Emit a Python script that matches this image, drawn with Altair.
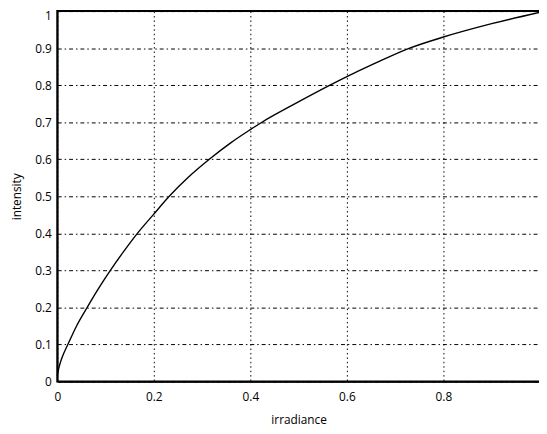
import altair as alt
import pandas as pd

irradiance = [0, 0.004, 0.01, 0.022, 0.04, 0.062, 0.085, 0.110, 0.137, 0.166,
              0.2, 0.232, 0.272, 0.315, 0.36, 0.4, 0.424, 0.49, 0.565, 0.6,
              0.66, 0.73, 0.8, 0.9, 1.0]
intensity = [0.015, 0.04, 0.065, 0.1, 0.15, 0.2, 0.25, 0.3, 0.35, 0.4,
             0.452, 0.5, 0.552, 0.6, 0.645, 0.68, 0.7, 0.748, 0.8, 0.823,
             0.86, 0.9, 0.93, 0.966, 0.997]
x_ticks = [0, 0.2, 0.4, 0.6, 0.8]
y_ticks = [0, 0.1, 0.2, 0.3, 0.4, 0.5, 0.6, 0.7, 0.8, 0.9, 1.0]

df = pd.DataFrame({"irradiance": irradiance, "intensity": intensity})

FONT = "Open Sans"

chart = alt.Chart(df).mark_line(color="black", strokeWidth=1.4, interpolate="monotone").encode(
    x=alt.X("irradiance:Q",
            scale=alt.Scale(domain=[0, 1], nice=False),
            axis=alt.Axis(values=x_ticks, format=".1~f", title="irradiance",
                          grid=True, gridColor="black", gridOpacity=1, gridWidth=1,
                          gridDash=[1.5, 3], ticks=False, domainColor="black",
                          domainWidth=1.5, labelPadding=10, titlePadding=13,
                          labelFlush=False, labelOverlap=False)),
    y=alt.Y("intensity:Q",
            scale=alt.Scale(domain=[0, 1], nice=False),
            axis=alt.Axis(values=y_ticks, format=".1~f", title="intensity",
                          grid=True, gridColor="black", gridOpacity=1, gridWidth=1,
                          gridDash=[4, 3, 1.5, 3], ticks=False, domainColor="black",
                          domainWidth=1.5, labelPadding=6, titlePadding=11,
                          labelFlush=False, labelOverlap=False,
                          labelBaseline=alt.expr("datum.value == 1 ? 'top' : 'middle'"))),
).properties(
    width=490, height=376,
    autosize=alt.AutoSizeParams(type="none"),
    padding={"top": 0, "left": 50, "right": -1, "bottom": 42},
).configure_view(stroke="black", strokeWidth=2).configure_axis(
    labelFont=FONT, titleFont=FONT, labelFontSize=12, titleFontSize=12,
    labelColor="black", titleColor="black", titleFontWeight="normal",
)

chart.save("out.html", embed_options={"renderer": "svg", "actions": False})
